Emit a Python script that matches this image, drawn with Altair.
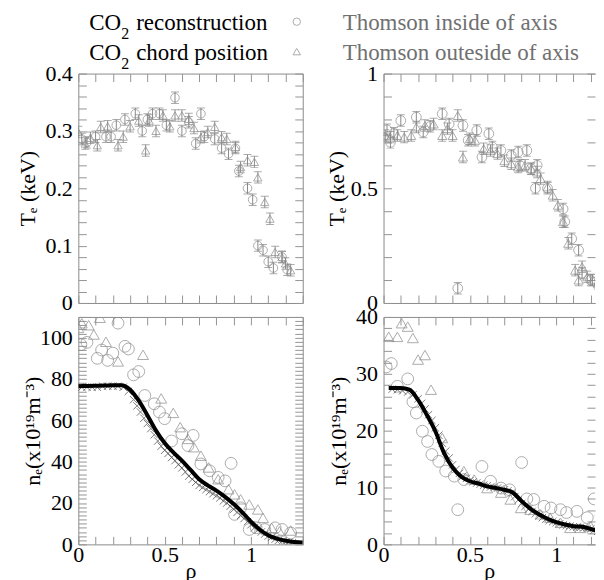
import altair as alt
import pandas as pd

FONT = "Liberation Serif"
MK = "#8a8a8a"
TK = "#959595"
BD = "#8c8c8c"

# ---------------- data ----------------
# panel (a) Te
a_circ_rho = [0.02, 0.05, 0.10, 0.16, 0.19, 0.22, 0.27, 0.33, 0.37, 0.40, 0.43, 0.47, 0.51, 0.56, 0.60, 0.64,
              0.68, 0.71, 0.73, 0.79, 0.83, 0.87, 0.91, 0.93, 0.98, 1.01, 1.04, 1.07, 1.10, 1.13, 1.18, 1.21]
a_circ_T = [0.286, 0.280, 0.290, 0.290, 0.290, 0.310, 0.320, 0.330, 0.300, 0.320, 0.330, 0.330, 0.310, 0.358,
            0.300, 0.315, 0.278, 0.330, 0.290, 0.286, 0.270, 0.260, 0.270, 0.230, 0.200, 0.180, 0.100, 0.092,
            0.072, 0.061, 0.080, 0.058]
a_tri_rho = [0.00, 0.04, 0.07, 0.11, 0.13, 0.17, 0.23, 0.26, 0.30, 0.35, 0.39, 0.41, 0.45, 0.49, 0.53, 0.56,
             0.60, 0.64, 0.67, 0.71, 0.75, 0.79, 0.83, 0.86, 0.91, 0.94, 0.98, 1.02, 1.04, 1.08, 1.11, 1.14,
             1.18, 1.20, 1.23]
a_tri_T = [0.298, 0.278, 0.288, 0.275, 0.307, 0.308, 0.275, 0.290, 0.308, 0.318, 0.266, 0.318, 0.300, 0.327,
           0.308, 0.327, 0.327, 0.321, 0.305, 0.289, 0.298, 0.307, 0.289, 0.286, 0.272, 0.237, 0.249, 0.246,
           0.219, 0.176, 0.147, 0.089, 0.080, 0.069, 0.057]

# panel (b) Te
b_circ_rho = [0.02, 0.04, 0.06, 0.10, 0.19, 0.23, 0.27, 0.34, 0.38, 0.43, 0.46, 0.49, 0.54, 0.57, 0.61, 0.63,
              0.68, 0.74, 0.78, 0.79, 0.83, 0.855, 0.88, 0.89, 0.95, 1.04, 1.05, 1.09, 1.13, 1.15, 1.20, 1.25, 1.27]
b_circ_T = [0.755, 0.700, 0.740, 0.795, 0.810, 0.745, 0.770, 0.825, 0.780, 0.064, 0.774, 0.709, 0.752, 0.636,
            0.738, 0.680, 0.665, 0.643, 0.658, 0.600, 0.665, 0.585, 0.500, 0.600, 0.500, 0.410, 0.354, 0.280,
            0.230, 0.130, 0.100, 0.078, 0.070]
b_tri_rho = [0.01, 0.04, 0.08, 0.12, 0.16, 0.19, 0.24, 0.29, 0.34, 0.37, 0.40, 0.43, 0.46, 0.50, 0.53, 0.58,
             0.62, 0.66, 0.70, 0.74, 0.78, 0.82, 0.855, 0.89, 0.91, 0.95, 0.98, 1.01, 1.04, 1.07, 1.11, 1.13,
             1.15, 1.18, 1.21, 1.24]
b_tri_T = [0.730, 0.723, 0.730, 0.723, 0.730, 0.767, 0.774, 0.780, 0.730, 0.760, 0.730, 0.817, 0.636, 0.716,
           0.709, 0.672, 0.665, 0.651, 0.620, 0.607, 0.593, 0.600, 0.585, 0.571, 0.542, 0.506, 0.470, 0.426,
           0.354, 0.260, 0.143, 0.100, 0.158, 0.114, 0.100, 0.086]

# panel (c) ne
c_circ_rho = [0.015, 0.05, 0.11, 0.135, 0.17, 0.20, 0.23, 0.27, 0.29, 0.32, 0.35, 0.385, 0.44, 0.47, 0.50, 0.54,
              0.60, 0.635, 0.665, 0.71, 0.76, 0.81, 0.85, 0.885, 0.905, 0.94, 0.99, 1.03, 1.08, 1.14, 1.18, 1.23]
c_circ_n = [96.6, 97.7, 90.0, 94.0, 89.0, 92.5, 107.0, 95.8, 94.5, 82.0, 83.6, 72.0, 68.0, 64.0, 60.8, 50.0,
            53.5, 47.8, 52.7, 38.9, 35.6, 32.4, 30.7, 39.2, 14.5, 17.7, 7.2, 8.0, 7.2, 8.0, 7.2, 5.5]
c_tri_rho = [0.00, 0.02, 0.06, 0.09, 0.125, 0.16, 0.23, 0.375, 0.48, 0.55, 0.59, 0.635, 0.67, 0.71, 0.755, 0.81,
             0.87, 0.905, 0.94, 0.99, 1.04, 1.07, 1.12, 1.165, 1.23]
c_tri_n = [104.7, 107.0, 106.0, 101.5, 109.6, 98.0, 88.5, 91.7, 70.6, 63.6, 56.7, 51.0, 47.0, 42.9, 37.2, 31.5,
           26.7, 24.2, 21.8, 19.3, 16.9, 12.8, 8.0, 6.3, 6.7]
c_line_rho = [0.00, 0.05, 0.10, 0.15, 0.20, 0.25, 0.30, 0.35, 0.40, 0.45, 0.50, 0.55, 0.60, 0.65, 0.70, 0.75,
              0.80, 0.85, 0.90, 0.95, 1.00, 1.05, 1.10, 1.15, 1.20, 1.25, 1.30]
c_line_n = [76.5, 76.6, 76.7, 76.8, 77.0, 77.0, 74.8, 69.5, 62.5, 55.0, 49.0, 44.5, 40.5, 36.0, 31.5, 28.5,
            26.0, 23.0, 19.5, 15.5, 11.0, 7.2, 4.4, 2.8, 1.8, 1.1, 0.8]
c_cross_rho = [0.02, 0.05, 0.08, 0.11, 0.14, 0.17, 0.20, 0.23, 0.26, 0.29, 0.32, 0.34, 0.36, 0.38, 0.40, 0.42,
               0.44, 0.46, 0.48, 0.50, 0.52, 0.54, 0.56, 0.58, 0.60, 0.62, 0.64, 0.66, 0.68, 0.70, 0.72, 0.74,
               0.76, 0.78, 0.80, 0.82, 0.84, 0.86, 0.88, 0.90, 0.92, 0.94, 0.96, 0.98, 1.00, 1.02, 1.04, 1.06,
               1.08, 1.10, 1.12, 1.14, 1.16, 1.18, 1.20, 1.22, 1.24]
c_cross_n = [76.0, 76.0, 76.0, 76.0, 76.5, 76.5, 76.5, 76.5, 76.0, 74.0, 70.0, 67.0, 64.0, 61.0, 58.5, 56.0,
             53.0, 50.0, 47.5, 45.5, 44.0, 42.0, 40.5, 38.5, 37.0, 35.0, 33.0, 31.5, 30.0, 28.5, 27.5, 26.5,
             25.5, 24.5, 23.5, 22.5, 21.0, 20.0, 18.5, 17.0, 15.5, 14.0, 12.5, 11.0, 9.5, 8.0, 7.0, 6.0,
             5.0, 4.0, 3.5, 2.5, 2.0, 1.5, 1.2, 1.0, 0.8]

# panel (d) ne
d_circ_rho = [0.015, 0.045, 0.08, 0.14, 0.17, 0.19, 0.225, 0.255, 0.28, 0.32, 0.36, 0.41, 0.43, 0.465, 0.57,
              0.62, 0.68, 0.73, 0.80, 0.83, 0.87, 0.93, 0.97, 1.025, 1.06, 1.12, 1.18, 1.22, 1.26]
d_circ_n = [31.2, 31.8, 27.8, 29.1, 25.1, 23.1, 19.9, 18.1, 15.8, 14.6, 12.9, 12.0, 6.1, 11.4, 13.7, 11.1,
            9.9, 9.6, 14.4, 8.0, 7.9, 6.7, 6.4, 6.1, 5.6, 5.8, 4.7, 8.0, 5.0]
d_tri_rho = [0.03, 0.08, 0.105, 0.14, 0.17, 0.20, 0.24, 0.275, 0.34, 0.465, 0.525, 0.60, 0.68, 0.735, 0.795,
             0.85, 0.91, 0.965, 1.025, 1.08, 1.14, 1.20]
d_tri_n = [36.5, 36.5, 38.9, 38.3, 36.3, 32.5, 33.3, 27.2, 18.7, 12.9, 11.4, 9.9, 9.1, 7.9, 6.4, 6.1, 5.3,
           4.7, 3.8, 2.9, 2.9, 3.2]
d_line_rho = [0.03, 0.10, 0.15, 0.20, 0.25, 0.30, 0.35, 0.40, 0.45, 0.50, 0.55, 0.60, 0.65, 0.70, 0.75, 0.80,
              0.85, 0.90, 0.95, 1.00, 1.05, 1.10, 1.15, 1.20, 1.25, 1.30]
d_line_n = [27.5, 27.5, 27.2, 25.4, 22.8, 19.9, 16.1, 13.5, 11.9, 11.1, 10.7, 10.2, 9.9, 9.6, 9.1, 7.6, 6.3,
            5.3, 4.5, 3.9, 3.5, 3.2, 3.1, 2.7, 2.3, 1.9]
d_cross_rho = [0.05, 0.08, 0.11, 0.14, 0.17, 0.20, 0.22, 0.24, 0.26, 0.28, 0.30, 0.32, 0.34, 0.36, 0.38, 0.40,
               0.42, 0.44, 0.46, 0.48, 0.50, 0.52, 0.54, 0.56, 0.58, 0.60, 0.62, 0.64, 0.66, 0.68, 0.70, 0.72,
               0.74, 0.76, 0.78, 0.80, 0.82, 0.84, 0.86, 0.88, 0.90, 0.92, 0.94, 0.96, 0.98, 1.00, 1.02, 1.04,
               1.06, 1.08, 1.10, 1.12, 1.14, 1.16, 1.18, 1.20, 1.22, 1.24, 1.26]
d_cross_n = [27.3, 27.2, 27.0, 26.8, 26.3, 25.6, 24.8, 23.8, 22.8, 21.8, 20.5, 19.2, 17.8, 16.4, 15.2, 14.0,
             13.2, 12.5, 12.0, 11.6, 11.2, 11.0, 10.8, 10.6, 10.4, 10.3, 10.1, 10.0, 9.9, 9.8, 9.6, 9.4,
             9.0, 8.4, 7.8, 7.2, 6.7, 6.2, 5.8, 5.4, 5.0, 4.7, 4.4, 4.2, 4.0, 3.8, 3.6, 3.4,
             3.3, 3.2, 3.1, 3.0, 3.0, 2.9, 2.8, 2.7, 2.5, 2.3, 2.1]

# legend texts
leg_co = ["CO", "CO"]
leg_sub = ["2", "2"]
leg_rest = ["reconstruction", "chord position"]
leg_thom = ["Thomson inside of axis", "Thomson outeside of axis"]
leg_shape = ["circle", "triangle-up"]

# ---------------- helpers ----------------
PX_PER_RHO = 225 / 1.3
XT = [round(i * 0.1, 1) for i in range(14)]
XL = [0, 0.5, 1]
CROSS = "M-1,-1L1,1M-1,1L1,-1"


def make_x(xmax):
    def xs(axis, field="rho"):
        return alt.X(f"{field}:Q", scale=alt.Scale(domain=[0, xmax], nice=False, zero=False), axis=axis)
    return xs


def ys(field, dom, axis):
    return alt.Y(f"{field}:Q", scale=alt.Scale(domain=dom, nice=False, zero=False), axis=axis)


def tick_axis(orient, values):
    return alt.Axis(orient=orient, offset=-8, values=values, tickSize=8, tickColor=TK, tickWidth=1,
                    labels=False, domain=False, grid=False, title=None)


def legend_layers():
    out = []
    for i in range(2):
        row = pd.DataFrame({"co": [leg_co[i]], "sub": [leg_sub[i]], "rest": [leg_rest[i]],
                            "thom": [leg_thom[i]], "shape": [leg_shape[i]]})
        yb = -44 + 30 * i
        b = alt.Chart(row)
        out += [
            b.mark_text(align="left", baseline="alphabetic", font=FONT, fontSize=23, color="black").encode(
                x=alt.value(11), y=alt.value(yb), text="co:N"),
            b.mark_text(align="left", baseline="alphabetic", font=FONT, fontSize=16, color="black").encode(
                x=alt.value(43), y=alt.value(yb + 9), text="sub:N"),
            b.mark_text(align="left", baseline="alphabetic", font=FONT, fontSize=23, color="black").encode(
                x=alt.value(58), y=alt.value(yb), text="rest:N"),
            b.mark_point(filled=False, color=MK, size=55, strokeWidth=1).encode(
                x=alt.value(219), y=alt.value(yb - 8), shape=alt.Shape("shape:N", scale=None)),
            b.mark_text(align="left", baseline="alphabetic", font=FONT, fontSize=23, color="#707070").encode(
                x=alt.value(265), y=alt.value(yb), text="thom:N"),
        ]
    return out


def panel(circ, tri, ydom, ylab, yticks, ytitle, ext, tpad, bottom, h, w=225, open_right=False,
          err=None, line=None, cross=None, csize=75, tsize=70, extra=None):
    xmax = w / PX_PER_RHO
    xs = make_x(xmax)
    xt_in = [t for t in XT if t <= xmax]
    dc = pd.DataFrame({"rho": circ[0], "v": circ[1]})
    dt = pd.DataFrame({"rho": tri[0], "v": tri[1]})
    main_x = alt.Axis(orient="bottom", values=XL, labels=bottom, ticks=False, grid=False,
                      domain=open_right, domainColor=BD, domainWidth=1,
                      title="ρ" if bottom else None, labelFont=FONT, labelFontSize=22, labelColor="black",
                      labelPadding=0, labelFlush=False, labelOverlap=False, format="~r",
                      titleFont=FONT, titleFontSize=22, titleFontWeight="normal", titleColor="black",
                      titlePadding=-5)
    main_y = alt.Axis(orient="left", values=ylab, ticks=False, grid=False, title=ytitle,
                      domain=open_right, domainColor=BD, domainWidth=1,
                      labelFont=FONT, labelFontSize=22, labelColor="black", labelPadding=6,
                      labelFlush=False, labelOverlap=False, format="~r", minExtent=ext, maxExtent=ext,
                      titleFont=FONT, titleFontSize=22, titleFontWeight="normal", titleColor="black",
                      titlePadding=tpad)
    guide = alt.Chart(dc).mark_point(opacity=0, clip=True)
    layers = [
        guide.encode(x=xs(main_x), y=ys("v", ydom, main_y)),
        guide.encode(x=xs(tick_axis("bottom", xt_in)), y=ys("v", ydom, tick_axis("left", yticks))),
        guide.encode(x=xs(tick_axis("top", xt_in)), y=ys("v", ydom, tick_axis("right", yticks))),
    ]
    if open_right:
        top_line = alt.Axis(orient="top", domain=True, domainColor=BD, domainWidth=1, ticks=False,
                            labels=False, grid=False, title=None)
        layers.append(guide.encode(x=xs(top_line), y=ys("v", ydom, None)))
    if err is not None:
        for d in (dc, dt):
            e = d.assign(lo=d["v"] - err, hi=d["v"] + err)
            b = alt.Chart(e)
            layers.append(b.mark_rule(color=MK, strokeWidth=1, clip=True).encode(
                x=xs(None), y=ys("lo", ydom, None), y2="hi:Q"))
            layers.append(b.mark_tick(color=MK, orient="horizontal", size=8, thickness=1, clip=True).encode(
                x=xs(None), y=ys("hi", ydom, None)))
            layers.append(b.mark_tick(color=MK, orient="horizontal", size=8, thickness=1, clip=True).encode(
                x=xs(None), y=ys("lo", ydom, None)))
    if cross is not None:
        dx = pd.DataFrame({"rho": cross[0], "v": cross[1]})
        layers.append(alt.Chart(dx).mark_point(shape=CROSS, size=55, color="#444444", strokeWidth=1,
                                               filled=False, clip=True).encode(x=xs(None), y=ys("v", ydom, None)))
    layers.append(alt.Chart(dc).mark_point(shape="circle", size=csize, color=MK, filled=False,
                                           strokeWidth=1, clip=True).encode(x=xs(None), y=ys("v", ydom, None)))
    layers.append(alt.Chart(dt).mark_point(shape="triangle-up", size=tsize, color=MK, filled=False,
                                           strokeWidth=1, clip=True).encode(x=xs(None), y=ys("v", ydom, None)))
    if line is not None:
        dl = pd.DataFrame({"rho": line[0], "v": line[1]})
        layers.append(alt.Chart(dl).mark_line(color="black", strokeWidth=4, interpolate="monotone",
                                              clip=True).encode(x=xs(None), y=ys("v", ydom, None)))
    if extra:
        layers += extra
    view = alt.ViewBackground(strokeOpacity=0) if open_right else alt.ViewBackground(stroke=BD, strokeWidth=1)
    return alt.layer(*layers).resolve_axis(x="independent", y="independent").properties(
        width=w, height=h, view=view)


RW = 212
pa = panel((a_circ_rho, a_circ_T), (a_tri_rho, a_tri_T), [0, 0.4], [0, 0.1, 0.2, 0.3, 0.4],
           [round(i * 0.02, 2) for i in range(21)], "Tₑ (keV)", 35, 3.5, False, 230, err=0.01,
           extra=legend_layers())
pb = panel((b_circ_rho, b_circ_T), (b_tri_rho, b_tri_T), [0, 1], [0, 0.5, 1],
           [round(i * 0.1, 1) for i in range(11)], "Tₑ (keV)", 34, 1.5, False, 230, w=RW, open_right=True,
           err=0.025, csize=95, tsize=85)
pc = panel((c_circ_rho, c_circ_n), (c_tri_rho, c_tri_n), [0, 110], [0, 20, 40, 60, 80, 100],
           list(range(0, 111, 2)), "nₑ(x10¹⁹m⁻³)", 30, 4, True, 228,
           line=(c_line_rho, c_line_n), cross=(c_cross_rho, c_cross_n), csize=140, tsize=120)
pdd = panel((d_circ_rho, d_circ_n), (d_tri_rho, d_tri_n), [0, 40], [0, 10, 20, 30, 40],
            list(range(0, 41, 2)), "nₑ(x10¹⁹m⁻³)", 29, 4.5, True, 228, w=RW, open_right=True,
            line=(d_line_rho, d_line_n), cross=(d_cross_rho, d_cross_n), csize=140, tsize=120)

chart = alt.concat(pa, pb, pc, pdd, columns=2, spacing={"row": 14, "column": 81}, bounds="flush").properties(
    padding={"left": 8.5, "top": 2, "right": 0, "bottom": 0}, background="white")

chart.save("out.html", embed_options={"renderer": "svg", "actions": False})
